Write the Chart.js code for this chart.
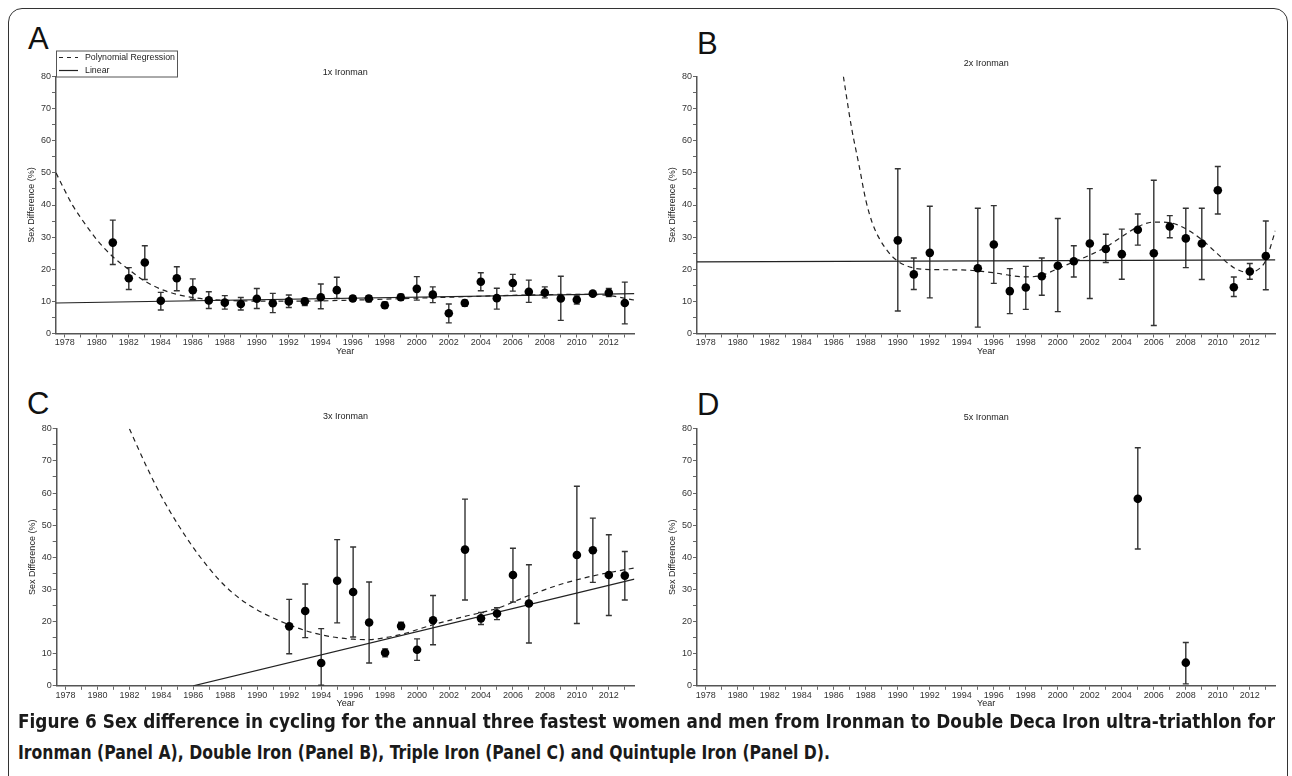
<!DOCTYPE html>
<html>
<head>
<meta charset="utf-8">
<script src="https://cdn.jsdelivr.net/npm/chart.js@4.4.1/dist/chart.umd.min.js"></script>
<style>
  body { margin: 0; background: #fff; width: 1292px; height: 776px; overflow: hidden; position: relative; font-family: "Liberation Sans", Arial, sans-serif; }
  #frame { position: absolute; left: 8px; top: 8px; width: 1280px; height: 820px; border: 1.5px solid #333; border-radius: 14px; box-sizing: border-box; }
  canvas { position: absolute; }
  .letter { position: absolute; font-size: 31px; line-height: 31px; color: #111; }
  .cap { position: absolute; left: 18px; white-space: nowrap; font-family: "DejaVu Sans Condensed", "Liberation Sans Narrow", sans-serif; font-weight: bold; font-size: 20px; line-height: 22px; color: #1a1a1a; transform-origin: 0 0; }
</style>
</head>
<body>
<div id="frame"></div>
<div class="letter" style="left:28px;top:23px">A</div>
<div class="letter" style="left:697px;top:28px">B</div>
<div class="letter" style="left:27px;top:388px">C</div>
<div class="letter" style="left:697px;top:389px">D</div>

<canvas id="panelA" width="640" height="326" style="left:10px;top:40px"></canvas>
<canvas id="panelB" width="640" height="326" style="left:651px;top:40px"></canvas>
<canvas id="panelC" width="640" height="326" style="left:10px;top:392px"></canvas>
<canvas id="panelD" width="640" height="326" style="left:651px;top:392px"></canvas>

<div class="cap" id="cap1" style="top:710px"><span>Figure 6</span> Sex difference in cycling for the annual three fastest women and men from Ironman to Double Deca Iron ultra-triathlon for</div>
<div class="cap" id="cap2" style="top:741px">Ironman (Panel A), Double Iron (Panel B), Triple Iron (Panel C) and Quintuple Iron (Panel D).</div>

<script>
// ---- data ----
const aYears = [1981, 1982, 1983, 1984, 1985, 1986, 1987, 1988, 1989, 1990, 1991, 1992, 1993, 1994, 1995, 1996, 1997,
  1998, 1999, 2000, 2001, 2002, 2003, 2004, 2005, 2006, 2007, 2008, 2009, 2010, 2011, 2012, 2013];
const aSex = [28.3, 17.2, 22.1, 10.2, 17.2, 13.5, 10.3, 9.6, 9.2, 10.8, 9.4, 10.0, 10.0, 11.3, 13.5, 10.9, 10.9,
  8.8, 11.3, 13.9, 12.1, 6.3, 9.5, 16.1, 11.0, 15.7, 13.0, 12.7, 10.9, 10.5, 12.4, 12.7, 9.5];
const aLow = [21.5, 13.7, 16.8, 7.3, 13.3, 10.6, 7.8, 7.6, 7.3, 7.8, 6.5, 8.1, 8.7, 7.7, 10.9, 10.1, 9.9,
  7.9, 10.3, 10.4, 9.6, 3.3, 8.5, 13.3, 7.6, 13.2, 9.7, 11.1, 4.1, 9.2, 11.9, 11.5, 3.0];
const aHigh = [35.3, 20.5, 27.3, 12.8, 20.8, 17.0, 13.0, 11.8, 11.2, 14.0, 12.5, 12.0, 11.0, 15.4, 17.5, 11.7, 11.8,
  9.8, 12.2, 17.7, 14.5, 9.2, 10.4, 18.9, 14.1, 18.4, 16.6, 14.5, 17.8, 11.7, 12.9, 14.0, 16.0];
const aPolyYears = [1977.45, 1978, 1978.5, 1979, 1979.5, 1980, 1981, 1982, 1983, 1984, 1985, 1986, 1987, 1988,
  1990, 1993, 1996, 2000, 2004, 2007, 2010, 2012, 2013.6];
const aPolyFit = [50, 44.5, 39.8, 36, 32.5, 29.2, 23.9, 19.9, 16.3, 13.8, 12.2, 11.2, 10.6, 10.3,
  10.1, 10.1, 10.4, 11.0, 11.6, 12.0, 12.2, 11.8, 10.4];
const aLinYears = [1977.45, 2013.6];
const aLinFit = [9.5, 12.4];

const bYears = [1990, 1991, 1992, 1995, 1996, 1997, 1998, 1999, 2000, 2001, 2002, 2003, 2004, 2005, 2006, 2007,
  2008, 2009, 2010, 2011, 2012, 2013];
const bSex = [29.0, 18.4, 25.1, 20.3, 27.7, 13.2, 14.3, 17.8, 21.1, 22.5, 28.0, 26.3, 24.7, 32.3, 25.0, 33.3,
  29.6, 28.0, 44.6, 14.4, 19.3, 24.1];
const bLow = [7.0, 13.7, 11.1, 2.0, 15.6, 6.2, 7.5, 11.9, 6.8, 17.6, 10.9, 22.1, 16.9, 27.5, 2.5, 29.8,
  20.5, 16.8, 37.2, 11.5, 16.9, 13.6];
const bHigh = [51.3, 23.5, 39.6, 39.0, 39.8, 20.2, 20.9, 23.5, 35.8, 27.3, 45.1, 30.9, 32.5, 37.2, 47.7, 36.7,
  39.0, 39.0, 52.0, 17.6, 21.8, 35.0];
const bPolyYears = [1986.6, 1987.1, 1987.6, 1988, 1988.4, 1988.8, 1989.4, 1990, 1990.9, 1992, 1994, 1996, 1997,
  1998, 1999, 2000, 2001, 2002, 2003, 2004, 2005, 2006, 2007, 2008, 2009, 2010, 2011, 2011.9, 2012.6, 2013, 2013.6];
const bPolyFit = [80, 64.3, 51.8, 41.5, 34.5, 30, 25.4, 22.5, 20.5, 19.9, 19.8, 18.9, 18.1,
  17.6, 18.1, 20.2, 22.3, 24.4, 26.9, 30.1, 33.2, 34.7, 34.5, 32.6, 29.2, 24.7, 20.5, 19.0, 20.2, 22.8, 32];
const bLinYears = [1977.45, 2013.6];
const bLinFit = [22.3, 22.9];

const cYears = [1992, 1993, 1994, 1995, 1996, 1997, 1998, 1999, 2000, 2001, 2003, 2004, 2005, 2006, 2007,
  2010, 2011, 2012, 2013];
const cSex = [18.5, 23.3, 7.1, 32.7, 29.2, 19.7, 10.3, 18.6, 11.2, 20.4, 42.4, 21.0, 22.5, 34.5, 25.6,
  40.7, 42.2, 34.5, 34.3];
const cLow = [10.0, 15.0, 0.2, 19.6, 15.2, 7.1, 9.0, 17.5, 7.9, 12.8, 26.7, 19.1, 20.6, 26.1, 13.3,
  19.4, 32.2, 21.9, 26.7];
const cHigh = [26.9, 31.7, 17.8, 45.5, 43.2, 32.3, 11.5, 19.8, 14.6, 28.1, 58.1, 22.8, 24.3, 42.8, 37.7,
  62.1, 52.2, 47.0, 41.8];
const cPolyYears = [1982, 1983, 1984, 1985, 1986, 1987, 1988, 1989, 1990, 1991, 1992, 1993, 1994, 1995, 1996,
  1997, 1998, 1999, 2001, 2003, 2005, 2007, 2009, 2011, 2013.6];
const cPolyFit = [80, 69, 59, 50.5, 43, 36.5, 31, 26.8, 23.6, 21.1, 19.0, 17.2, 15.9, 15.0, 14.5,
  14.4, 15.0, 16, 19, 21.6, 24.1, 28.1, 31.6, 34.2, 36.7];
const cLinYears = [1986, 2013.6];
const cLinFit = [0, 33.2];

const dYears = [2005, 2008];
const dSex = [58.2, 7.2];
const dLow = [42.6, 0.6];
const dHigh = [74.1, 13.5];

const panelTitles = ['1x Ironman', '2x Ironman', '3x Ironman', '5x Ironman'];
const legendLabels = ['Polynomial Regression', 'Linear'];
const yAxisTitle = 'Sex Difference (%)';
const xAxisTitle = 'Year';

// ---- drawing ----
const FONT = '"Liberation Sans", Arial, sans-serif';
const INK = '#222';
const AXIS = '#555';

function pts(xs, ys) {
  return xs.map((x, i) => ({ x: x, y: ys[i] }));
}

const errorBars = {
  id: 'errorBars',
  beforeDatasetsDraw(chart) {
    const ctx = chart.ctx;
    const xs = chart.scales.x, ys = chart.scales.y;
    chart.data.datasets.forEach(ds => {
      if (!ds.errLow) return;
      ctx.save();
      ctx.strokeStyle = '#333';
      ctx.lineWidth = 1.4;
      ds.data.forEach((p, i) => {
        const px = xs.getPixelForValue(p.x);
        const y1 = ys.getPixelForValue(ds.errLow[i]);
        const y2 = ys.getPixelForValue(ds.errHigh[i]);
        ctx.beginPath();
        ctx.moveTo(px, y1); ctx.lineTo(px, y2);
        ctx.moveTo(px - 3, y1); ctx.lineTo(px + 3, y1);
        ctx.moveTo(px - 3, y2); ctx.lineTo(px + 3, y2);
        ctx.stroke();
      });
      ctx.restore();
    });
  }
};

const panelTitle = {
  id: 'panelTitle',
  afterDraw(chart, args, opts) {
    if (!opts.text) return;
    const a = chart.chartArea, ctx = chart.ctx;
    ctx.save();
    ctx.font = '9px ' + FONT;
    ctx.fillStyle = INK;
    ctx.textAlign = 'center';
    ctx.textBaseline = 'middle';
    ctx.fillText(opts.text, (a.left + a.right) / 2, a.top - opts.gap);
    ctx.restore();
  }
};

const fitLegend = {
  id: 'fitLegend',
  afterDraw(chart, args, opts) {
    if (!opts.show) return;
    const a = chart.chartArea, ctx = chart.ctx;
    const left = a.left, top = a.top - 26, w = 121, h = 26;
    ctx.save();
    ctx.fillStyle = '#fff';
    ctx.fillRect(left, top, w, h);
    ctx.strokeStyle = AXIS;
    ctx.lineWidth = 1;
    ctx.strokeRect(left + 0.5, top + 0.5, w, h);
    ctx.strokeStyle = INK;
    ctx.lineWidth = 1.2;
    ctx.setLineDash([4, 4]);
    ctx.beginPath(); ctx.moveTo(left + 3, top + 7); ctx.lineTo(left + 22, top + 7); ctx.stroke();
    ctx.setLineDash([]);
    ctx.beginPath(); ctx.moveTo(left + 3, top + 20); ctx.lineTo(left + 22, top + 20); ctx.stroke();
    ctx.font = '8.8px ' + FONT;
    ctx.fillStyle = INK;
    ctx.textBaseline = 'middle';
    ctx.fillText(legendLabels[0], left + 29, top + 7);
    ctx.fillText(legendLabels[1], left + 29, top + 20);
    ctx.restore();
  }
};

function makePanel(id, p) {
  const datasets = [{
    data: pts(p.years, p.sex),
    errLow: p.low,
    errHigh: p.high,
    pointRadius: 4.3,
    pointBackgroundColor: '#000',
    pointBorderWidth: 0,
    showLine: false
  }];
  if (p.polyYears) {
    datasets.push({
      data: pts(p.polyYears, p.polyFit),
      showLine: true, pointRadius: 0, borderColor: INK, borderWidth: 1.2,
      borderDash: [5, 4], tension: 0.4, cubicInterpolationMode: 'monotone'
    });
    datasets.push({
      data: pts(p.linYears, p.linFit),
      showLine: true, pointRadius: 0, borderColor: INK, borderWidth: 1.2
    });
  }
  const tickFont = { family: FONT, size: 9 };
  return new Chart(document.getElementById(id), {
    type: 'scatter',
    data: { datasets },
    plugins: [errorBars, panelTitle, fitLegend],
    options: {
      responsive: false,
      animation: false,
      events: [],
      layout: { padding: p.pad },
      plugins: {
        legend: { display: false },
        tooltip: { enabled: false },
        panelTitle: { text: p.title, gap: p.gap },
        fitLegend: { show: !!p.legend }
      },
      scales: {
        x: {
          type: 'linear', min: 1977.45, max: 2013.6,
          afterFit(s) { s.height = 30; },
          ticks: {
            stepSize: 1, includeBounds: false, autoSkip: false, maxRotation: 0, padding: 0,
            color: '#333', font: tickFont,
            callback: v => (v % 2 === 0 ? String(v) : '')
          },
          grid: { display: true, drawOnChartArea: false, drawTicks: true, tickLength: 4, color: '#666' },
          border: { display: true, color: AXIS, width: 1.5 },
          title: { display: true, text: xAxisTitle, color: INK, font: tickFont, padding: { top: 0, bottom: 7 } }
        },
        y: {
          min: 0, max: 80,
          afterFit(s) { s.width = 40; },
          ticks: {
            stepSize: 5, autoSkip: false, padding: 1, color: '#333', font: tickFont,
            callback: v => (v % 10 === 0 ? String(v) : '')
          },
          grid: { display: true, drawOnChartArea: false, drawTicks: true, tickLength: 4, color: '#666' },
          border: { display: true, color: AXIS, width: 1.5 },
          title: { display: true, text: yAxisTitle, color: INK, font: tickFont, padding: { top: 10.2, bottom: 0 } }
        }
      }
    }
  });
}

makePanel('panelA', {
  years: aYears, sex: aSex, low: aLow, high: aHigh,
  polyYears: aPolyYears, polyFit: aPolyFit, linYears: aLinYears, linFit: aLinFit,
  title: panelTitles[0], gap: 3.5, legend: true,
  pad: { left: 6, top: 36.5, right: 15.6, bottom: 2.5 }
});
makePanel('panelB', {
  years: bYears, sex: bSex, low: bLow, high: bHigh,
  polyYears: bPolyYears, polyFit: bPolyFit, linYears: bLinYears, linFit: bLinFit,
  title: panelTitles[1], gap: 12.5,
  pad: { left: 6, top: 36.5, right: 15.6, bottom: 2.5 }
});
makePanel('panelC', {
  years: cYears, sex: cSex, low: cLow, high: cHigh,
  polyYears: cPolyYears, polyFit: cPolyFit, linYears: cLinYears, linFit: cLinFit,
  title: panelTitles[2], gap: 12,
  pad: { left: 6.7, top: 36.8, right: 15.6, bottom: 2.2 }
});
makePanel('panelD', {
  years: dYears, sex: dSex, low: dLow, high: dHigh,
  title: panelTitles[3], gap: 11,
  pad: { left: 6, top: 36.8, right: 15.6, bottom: 2.2 }
});

// stretch the caption lines to the widths used in the figure
const cap1 = document.getElementById('cap1');
const cap2 = document.getElementById('cap2');
cap1.style.transform = 'scaleX(' + (1257 / cap1.getBoundingClientRect().width) + ')';
cap2.style.transform = 'scaleX(' + (812 / cap2.getBoundingClientRect().width) + ')';
</script>
</body>
</html>
